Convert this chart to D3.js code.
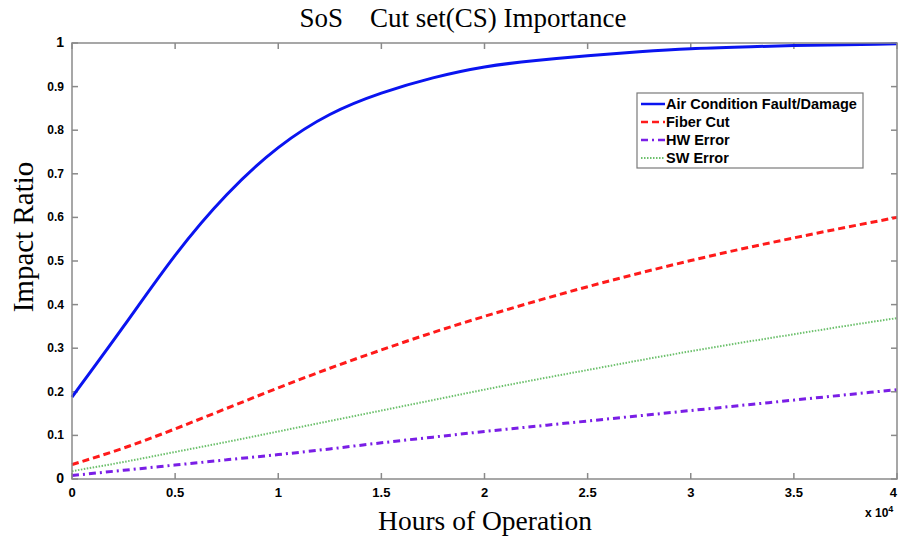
<!DOCTYPE html>
<html>
<head>
<meta charset="utf-8">
<script src="https://cdn.jsdelivr.net/npm/d3@7"></script>
<style>
  body { margin: 0; background: #fff; }
  svg { display: block; }
</style>
</head>
<body>
<div id="chart"></div>
<script>
// Data (x in units of 10^4 hours)
const hours = [0, 0.25, 0.5, 0.75, 1, 1.25, 1.5, 1.75, 2, 2.25, 2.5, 2.75, 3, 3.25, 3.5, 3.75, 4];
const airCondition = [0.188, 0.350, 0.513, 0.652, 0.760, 0.836, 0.885, 0.920, 0.945, 0.960, 0.971, 0.980, 0.987, 0.991, 0.994, 0.996, 0.998];
const fiberCut = [0.033, 0.071, 0.115, 0.162, 0.209, 0.254, 0.296, 0.336, 0.373, 0.408, 0.441, 0.472, 0.501, 0.528, 0.553, 0.577, 0.600];
const hwError = [0.008, 0.020, 0.032, 0.044, 0.056, 0.069, 0.083, 0.096, 0.109, 0.121, 0.133, 0.145, 0.157, 0.169, 0.181, 0.193, 0.205];
const swError = [0.018, 0.039, 0.062, 0.085, 0.109, 0.133, 0.157, 0.181, 0.205, 0.228, 0.250, 0.272, 0.293, 0.313, 0.332, 0.351, 0.369];
const seriesNames = ["Air Condition Fault/Damage", "Fiber Cut", "HW Error", "SW Error"];
const xTicks = [0, 0.5, 1, 1.5, 2, 2.5, 3, 3.5, 4];
const yTicks = [0, 0.1, 0.2, 0.3, 0.4, 0.5, 0.6, 0.7, 0.8, 0.9, 1];

const width = 899, height = 540;
const margin = {top: 43, right: 2, bottom: 61, left: 72};

const svg = d3.select("#chart").append("svg")
    .attr("width", width)
    .attr("height", height);

const x = d3.scaleLinear().domain([0, 4]).range([margin.left, width - margin.right]);
const y = d3.scaleLinear().domain([0, 1]).range([height - margin.bottom, margin.top]);

const axisColor = "#8a8a8a";

// Ticks inside the box on all four sides
const tickLen = 6;
const g = svg.append("g");
xTicks.forEach(t => {
    g.append("line").attr("x1", x(t)).attr("x2", x(t))
        .attr("y1", y(0)).attr("y2", y(0) - tickLen)
        .attr("stroke", axisColor).attr("stroke-width", 1.5);
    g.append("line").attr("x1", x(t)).attr("x2", x(t))
        .attr("y1", y(1)).attr("y2", y(1) + tickLen)
        .attr("stroke", axisColor).attr("stroke-width", 1.5);
});
yTicks.forEach(t => {
    g.append("line").attr("x1", x(0)).attr("x2", x(0) + tickLen)
        .attr("y1", y(t)).attr("y2", y(t))
        .attr("stroke", axisColor).attr("stroke-width", 1.5);
    g.append("line").attr("x1", x(4)).attr("x2", x(4) - tickLen)
        .attr("y1", y(t)).attr("y2", y(t))
        .attr("stroke", axisColor).attr("stroke-width", 1.5);
});

// Tick labels
svg.append("g").selectAll("text")
    .data(xTicks)
    .enter().append("text")
    .attr("x", d => x(d))
    .attr("y", y(0) + 18)
    .attr("text-anchor", d => d === 4 ? "end" : "middle")
    .style("font-family", "Liberation Sans, Arial, sans-serif")
    .style("font-weight", "bold")
    .style("font-size", "13px")
    .text(d => d3.format("~g")(d));

svg.append("g").selectAll("text")
    .data(yTicks)
    .enter().append("text")
    .attr("x", x(0) - 8)
    .attr("y", d => y(d) + 4)
    .attr("text-anchor", "end")
    .style("font-family", "Liberation Sans, Arial, sans-serif")
    .style("font-weight", "bold")
    .style("font-size", d => d === 0 || d === 1 ? "14px" : "12px")
    .text(d => d3.format("~g")(d));

// Lines
const series = [
    {name: seriesNames[0], values: airCondition, color: "#0a14f0", width: 3, dash: null},
    {name: seriesNames[1], values: fiberCut, color: "#ff1a1a", width: 3, dash: "7,4"},
    {name: seriesNames[2], values: hwError, color: "#7a1ee6", width: 3, dash: "7,4,2,4"},
    {name: seriesNames[3], values: swError, color: "#6cc06c", width: 2, dash: "1.5,1.5"}
];

const line = d3.line()
    .x((d, i) => x(hours[i]))
    .y(d => y(d))
    .curve(d3.curveNatural);

svg.append("g").selectAll("path")
    .data(series.slice().reverse())
    .enter().append("path")
    .attr("d", d => line(d.values))
    .attr("fill", "none")
    .attr("stroke", d => d.color)
    .attr("stroke-width", d => d.width)
    .attr("stroke-dasharray", d => d.dash);

// Box
svg.append("rect")
    .attr("x", x(0)).attr("y", y(1))
    .attr("width", x(4) - x(0)).attr("height", y(0) - y(1))
    .attr("fill", "none")
    .attr("stroke", axisColor)
    .attr("stroke-width", 1.5);

// Legend
const legend = svg.append("g").attr("transform", "translate(637,93)");
legend.append("rect")
    .attr("width", 226).attr("height", 75)
    .attr("fill", "#fff")
    .attr("stroke", "#7a7a7a")
    .attr("stroke-width", 1.2);

const item = legend.selectAll("g.item")
    .data(series)
    .enter().append("g")
    .attr("class", "item")
    .attr("transform", (d, i) => `translate(0, ${11 + i * 18})`);

item.append("line")
    .attr("x1", 4).attr("x2", 28)
    .attr("stroke", d => d.color)
    .attr("stroke-width", d => d.width === 3 ? 2.5 : 1.8)
    .attr("stroke-dasharray", d => d.dash);

item.append("text")
    .attr("x", 29)
    .attr("y", 5)
    .style("font-family", "Liberation Sans, Arial, sans-serif")
    .style("font-weight", "bold")
    .style("font-size", "14.5px")
    .text(d => d.name);

// Titles
svg.append("text")
    .attr("x", 463)
    .attr("y", 27)
    .attr("text-anchor", "middle")
    .attr("xml:space", "preserve")
    .style("white-space", "pre")
    .style("font-family", "Liberation Serif, Times New Roman, serif")
    .style("font-size", "27px")
    .text("SoS    Cut set(CS) Importance");

svg.append("text")
    .attr("x", 485)
    .attr("y", 530)
    .attr("text-anchor", "middle")
    .style("font-family", "Liberation Serif, Times New Roman, serif")
    .style("font-size", "27.5px")
    .text("Hours of Operation");

svg.append("text")
    .attr("transform", "translate(33,237) rotate(-90)")
    .attr("text-anchor", "middle")
    .style("font-family", "Liberation Serif, Times New Roman, serif")
    .style("font-size", "29px")
    .text("Impact Ratio");

const mult = svg.append("text")
    .attr("x", 865)
    .attr("y", 517)
    .style("font-family", "Liberation Sans, Arial, sans-serif")
    .style("font-weight", "bold")
    .style("font-size", "12px");
mult.append("tspan").text("x 10");
mult.append("tspan").attr("dy", -5).style("font-size", "9px").text("4");
</script>
</body>
</html>
